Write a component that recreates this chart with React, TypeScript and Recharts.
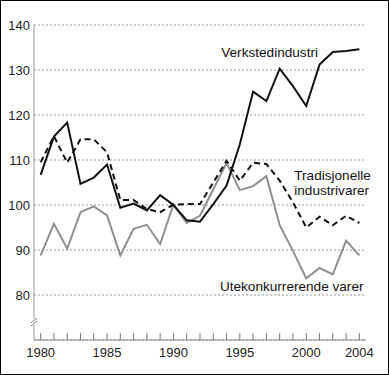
import React from 'react';
import {
  LineChart,
  Line,
  XAxis,
  YAxis,
  CartesianGrid,
  ReferenceDot,
} from 'recharts';

const years = [
  1980, 1981, 1982, 1983, 1984, 1985, 1986, 1987, 1988, 1989, 1990, 1991, 1992,
  1993, 1994, 1995, 1996, 1997, 1998, 1999, 2000, 2001, 2002, 2003, 2004,
];

const verksted = [
  106.7, 115.2, 118.3, 104.7, 106.1, 109.0, 99.4, 100.3, 98.8, 102.2, 100.0,
  96.6, 96.3, 100.2, 104.3, 113.5, 125.2, 123.1, 130.3, 126.4, 122.0, 131.2,
  134.0, 134.2, 134.6,
];

const tradisjonelle = [
  109.5, 115.3, 109.4, 114.6, 114.6, 111.7, 101.1, 101.1, 99.1, 98.4, 100.1,
  100.2, 100.2, 105.0, 109.8, 105.4, 109.4, 109.1, 105.4, 100.6, 95.0, 97.4,
  95.5, 97.6, 96.0,
];

const utekonk = [
  88.8, 95.8, 90.3, 98.4, 99.7, 97.7, 88.8, 94.7, 95.6, 91.3, 100.1, 96.0,
  97.6, 103.5, 109.3, 103.3, 104.2, 106.4, 95.5, 89.8, 83.7, 86.0, 84.6, 92.1,
  88.8,
];

const yTicks = [80, 90, 100, 110, 120, 130, 140];
const xLabels = [1980, 1985, 1990, 1995, 2000, 2004];

const data = years.map((year, i) => ({
  year,
  verksted: verksted[i],
  trad: tradisjonelle[i],
  ute: utekonk[i],
}));

const FONT = '"Liberation Sans", Arial, Helvetica, sans-serif';

function XTick(props: any) {
  const { x, y, payload } = props;
  const showLabel = xLabels.includes(payload.value);
  return (
    <g>
      <line x1={x} x2={x} y1={y} y2={y - 7} stroke="#777" strokeWidth={1} />
      {showLabel && (
        <text x={x} y={y + 17} textAnchor="middle" fontSize={13} fill="#222" fontFamily={FONT}>
          {payload.value}
        </text>
      )}
    </g>
  );
}

// text placed through the chart scales
function labelShape(lines: string[]) {
  return (p: any) => (
    <text x={p.cx} y={p.cy} fontSize={13.6} fill="#111" fontFamily={FONT} dominantBaseline="central">
      {lines.map((l, i) => (
        <tspan key={i} x={p.cx} dy={i === 0 ? 0 : 15}>
          {l}
        </tspan>
      ))}
    </text>
  );
}

function BreakMark(p: any) {
  const { cx, cy } = p;
  return (
    <g>
      <rect x={cx - 3} y={cy - 3} width={6} height={6} fill="#fff" />
      <line x1={cx - 3} y1={cy + 1} x2={cx + 3} y2={cy - 4} stroke="#777" />
      <line x1={cx - 3} y1={cy + 4} x2={cx + 3} y2={cy - 1} stroke="#777" />
    </g>
  );
}

export default function App() {
  return (
    <div style={{ position: 'relative', width: 389, height: 375, background: '#fff' }}>
      <style>{'body{margin:0}'}</style>
      <LineChart
        width={389}
        height={375}
        data={data}
        margin={{ top: 25, right: 23, left: 0, bottom: 0 }}
      >
        <CartesianGrid vertical={false} stroke="#999" strokeDasharray="2 2" />
        <XAxis
          dataKey="year"
          type="number"
          domain={[1979.5, 2004.5]}
          ticks={years}
          interval={0}
          height={35}
          tickSize={0}
          tickMargin={0}
          tickLine={false}
          axisLine={{ stroke: '#888' }}
          tick={<XTick />}
        />
        <YAxis
          domain={[70, 140]}
          ticks={yTicks}
          interval={0}
          width={34}
          tickSize={0}
          tickMargin={4}
          tickLine={false}
          axisLine={{ stroke: '#999' }}
          tick={{ fontSize: 13, fill: '#222', fontFamily: FONT }}
        />
        <Line
          dataKey="ute"
          stroke="#8f8f8f"
          strokeWidth={2}
          dot={false}
          isAnimationActive={false}
        />
        <Line
          dataKey="trad"
          stroke="#111"
          strokeWidth={2}
          strokeDasharray="6 4"
          dot={false}
          isAnimationActive={false}
        />
        <Line
          dataKey="verksted"
          stroke="#111"
          strokeWidth={2}
          dot={false}
          isAnimationActive={false}
        />
        <ReferenceDot x={1979.5} y={74} r={0} shape={BreakMark} />
        <ReferenceDot x={1993.6} y={134} r={0} shape={labelShape(['Verkstedindustri'])} />
        <ReferenceDot x={1999.1} y={106.7} r={0} shape={labelShape(['Tradisjonelle', 'industrivarer'])} />
        <ReferenceDot x={1993.5} y={81.9} r={0} shape={labelShape(['Utekonkurrerende varer'])} />
      </LineChart>
      <div
        style={{
          position: 'absolute',
          inset: 0,
          border: '1px solid #000',
          pointerEvents: 'none',
        }}
      />
    </div>
  );
}
